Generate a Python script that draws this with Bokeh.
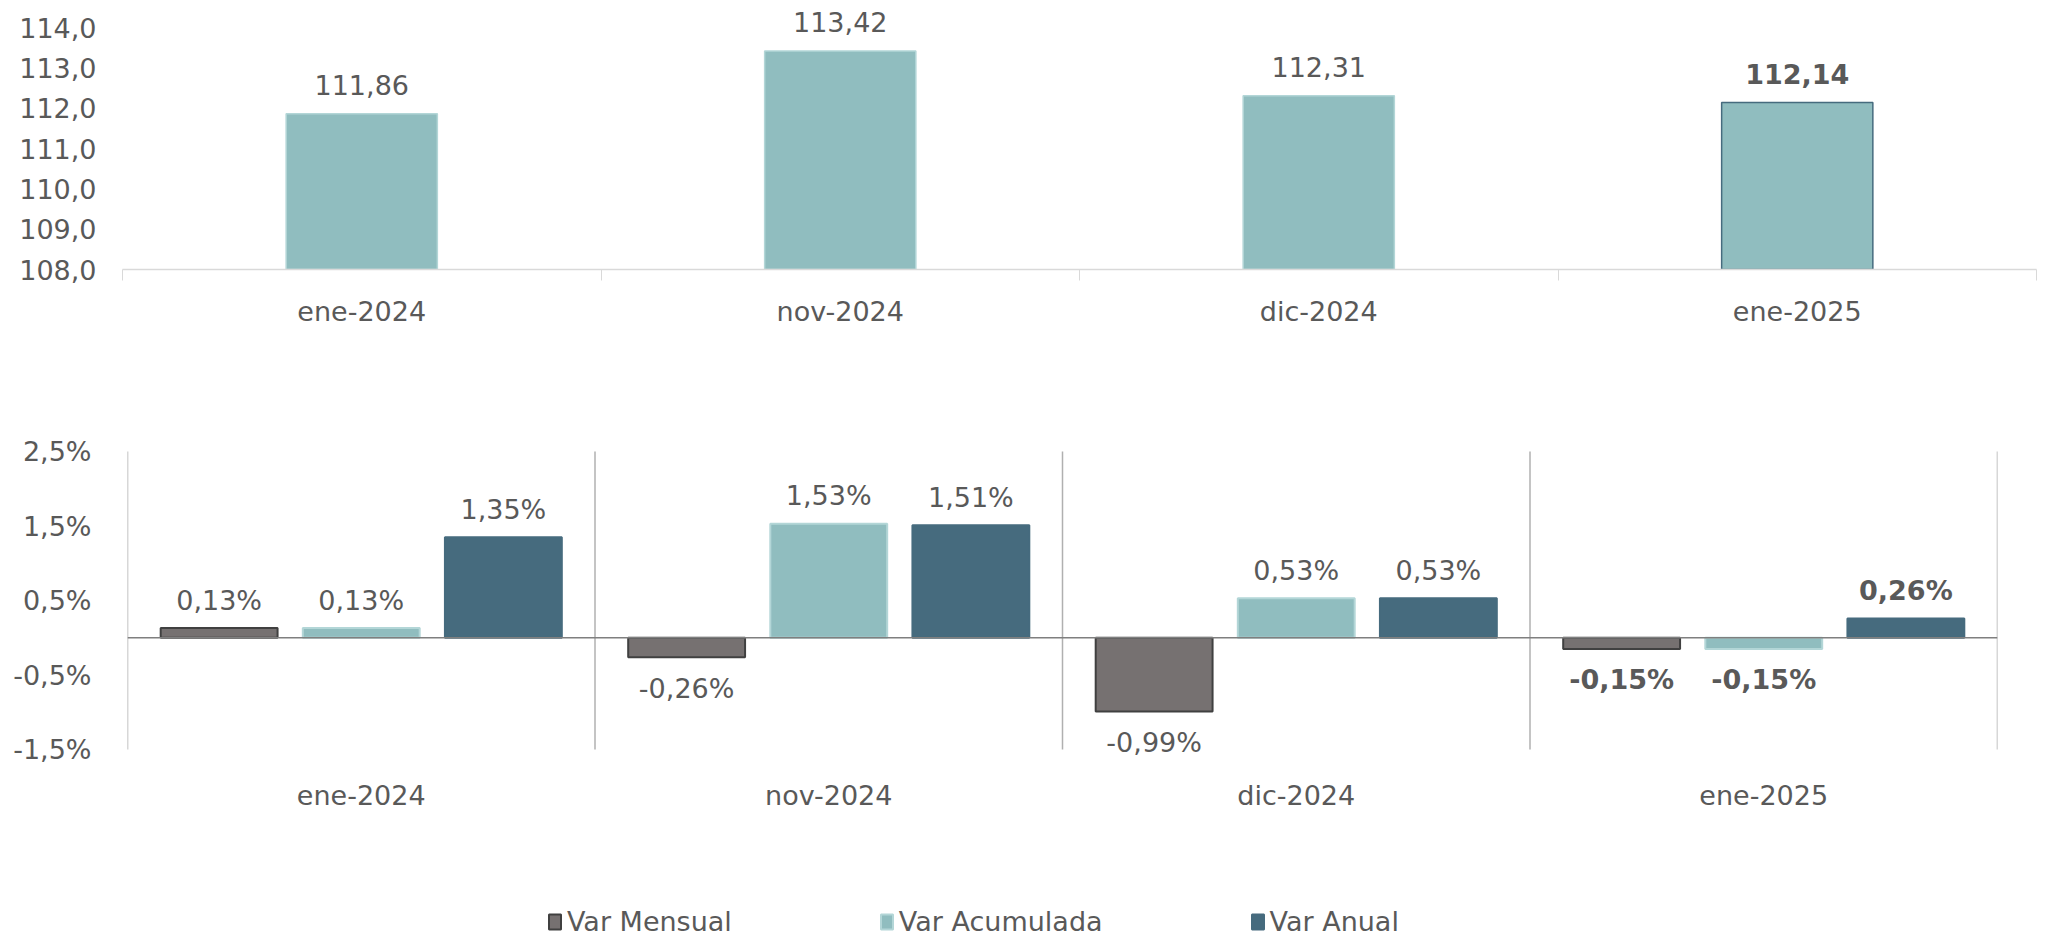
from bokeh.plotting import figure
from bokeh.models import (ColumnDataSource, Range1d, FixedTicker, Span, Legend, LegendItem)
from bokeh.transform import dodge
from bokeh.layouts import column
from bokeh.core.properties import value
from bokeh.embed import file_html
from bokeh.resources import INLINE

# ---------------- data ----------------
categories = ["ene-2024", "nov-2024", "dic-2024", "ene-2025"]
indice = [111.86, 113.42, 112.31, 112.14]
var_mensual = [0.13, -0.26, -0.99, -0.15]
var_acumulada = [0.13, 1.53, 0.53, -0.15]
var_anual = [1.35, 1.51, 0.53, 0.26]
top_ticks = [108.0, 109.0, 110.0, 111.0, 112.0, 113.0, 114.0]
bottom_ticks = [-1.5, -0.5, 0.5, 1.5, 2.5]
series_names = ["Var Mensual", "Var Acumulada", "Var Anual"]

FONT = "DejaVu Sans"
TXT = "#595959"
FS = "27px"
C_MENS = "#767171"
C_MENS_LINE = "#404040"
C_ACUM = "#90bdbf"
C_ACUM_LINE = "#b3d6d7"
C_ANUAL = "#466b7e"

n = len(categories)
centers = [i + 0.5 for i in range(n)]
bounds = [float(i) for i in range(n + 1)]
bold = ["normal"] * (n - 1) + ["bold"]


def fmt(v, pct=False):
    s = f"{v:.2f}".replace(".", ",")
    return s + ("%" if pct else "")


def style_axis(ax):
    ax.major_label_text_font = FONT
    ax.major_label_text_font_size = FS
    ax.major_label_text_color = TXT


# ---------------- top chart ----------------
top = figure(width=2050, height=360, output_backend="svg", toolbar_location=None,
             x_range=Range1d(0, n), y_range=Range1d(108, 114.67),
             min_border_left=122, min_border_right=14, min_border_top=0,
             min_border_bottom=91)
top.frame_align = False
top.outline_line_color = None
top.grid.visible = False

src_top = ColumnDataSource(dict(
    x=centers, top=indice, label=[fmt(v) for v in indice], style=bold,
    line=[C_ACUM_LINE] * (n - 1) + [C_ANUAL],
))
top.vbar(x="x", top="top", bottom=108, width=0.316, source=src_top,
         fill_color=C_ACUM, line_color="line", line_width=1.5)
top.text(x="x", y="top", text="label", source=src_top, text_align="center",
         text_baseline="middle", y_offset=-29, text_font=value(FONT),
         text_font_size=FS, text_color=TXT, text_font_style="style")

xa = top.xaxis[0]
xa.ticker = FixedTicker(ticks=centers, minor_ticks=bounds)
xa.major_label_overrides = {c: lab for c, lab in zip(centers, categories)}
xa.major_tick_out = 0
xa.major_tick_in = 0
xa.minor_tick_out = 11
xa.minor_tick_in = 0
xa.minor_tick_line_color = "#d9d9d9"
xa.axis_line_color = "#d9d9d9"
xa.axis_line_width = 1.5
xa.major_label_standoff = 15
style_axis(xa)

ya = top.yaxis[0]
ya.ticker = FixedTicker(ticks=top_ticks)
ya.major_label_overrides = {t: f"{t:.1f}".replace(".", ",") for t in top_ticks}
ya.axis_line_color = None
ya.major_tick_line_color = None
ya.minor_tick_line_color = None
ya.major_label_standoff = 20
style_axis(ya)

# ---------------- bottom chart ----------------
bot = figure(width=2050, height=487, output_backend="svg", toolbar_location=None,
             x_range=Range1d(0, n), y_range=Range1d(-1.768, 2.916),
             min_border_left=127, min_border_right=53, min_border_top=60,
             min_border_bottom=78)
bot.frame_align = False
bot.outline_line_color = None
bot.grid.visible = False

# category separators spanning the value-axis extent
bot.segment(x0=bounds, x1=bounds, y0=[bottom_ticks[0]] * len(bounds),
            y1=[bottom_ticks[-1]] * len(bounds), line_color="#b0b0b0", line_width=1.5)
bot.add_layout(Span(location=0, dimension="width", line_color="#7f7f7f", line_width=1.5))

off = 0.304
bw = 0.25
series = [
    (var_mensual, C_MENS, C_MENS_LINE, -off),
    (var_acumulada, C_ACUM, C_ACUM_LINE, 0.0),
    (var_anual, C_ANUAL, C_ANUAL, off),
]
sources = []
for vals, fc, lc, dx in series:
    src = ColumnDataSource(dict(
        x=centers, top=vals, label=[fmt(v, True) for v in vals], style=bold,
        yoff=[-28 if v >= 0 else 31 for v in vals],
    ))
    sources.append(src)
    bot.vbar(x=dodge("x", dx, range=bot.x_range), top="top", bottom=0, width=bw,
             source=src, fill_color=fc, line_color=lc, line_width=2)
    bot.text(x=dodge("x", dx, range=bot.x_range), y="top", text="label", source=src,
             text_align="center", text_baseline="middle", y_offset="yoff",
             text_font=value(FONT), text_font_size=FS, text_color=TXT,
             text_font_style="style")

xb = bot.xaxis[0]
xb.ticker = FixedTicker(ticks=centers)
xb.major_label_overrides = {c: lab for c, lab in zip(centers, categories)}
xb.axis_line_color = None
xb.major_tick_line_color = None
xb.minor_tick_line_color = None
xb.major_label_standoff = 4
style_axis(xb)

yb = bot.yaxis[0]
yb.ticker = FixedTicker(ticks=bottom_ticks)
yb.major_label_overrides = {t: f"{t:.1f}".replace(".", ",") + "%" for t in bottom_ticks}
yb.axis_line_color = None
yb.major_tick_line_color = None
yb.minor_tick_line_color = None
yb.major_label_standoff = 30
style_axis(yb)

# ---------------- legend strip ----------------
leg = figure(width=2050, height=90, output_backend="svg", toolbar_location=None,
             x_axis_type=None, y_axis_type=None, x_range=Range1d(0, n),
             y_range=Range1d(-2, 3),
             min_border_left=0, min_border_right=0, min_border_top=0, min_border_bottom=0)
leg.frame_align = False
leg.outline_line_color = None
leg.grid.visible = False
items = []
for name, src, (vals, fc, lc, dx) in zip(series_names, sources, series):
    r = leg.vbar(x="x", top="top", bottom=0, width=bw, source=src,
                 fill_color=fc, line_color=lc, line_width=2, visible=False)
    items.append(LegendItem(label=name, renderers=[r]))
legend = Legend(items=items, orientation="horizontal", location=(547, 0),
                label_text_font=FONT, label_text_font_size=FS, label_text_color=TXT,
                glyph_width=15, glyph_height=19, label_standoff=5, spacing=147,
                padding=0, margin=0, border_line_color=None,
                background_fill_alpha=0)
leg.add_layout(legend, "center")

layout = column(top, bot, leg, spacing=0)
open("out.html", "w").write(file_html(layout, INLINE))
